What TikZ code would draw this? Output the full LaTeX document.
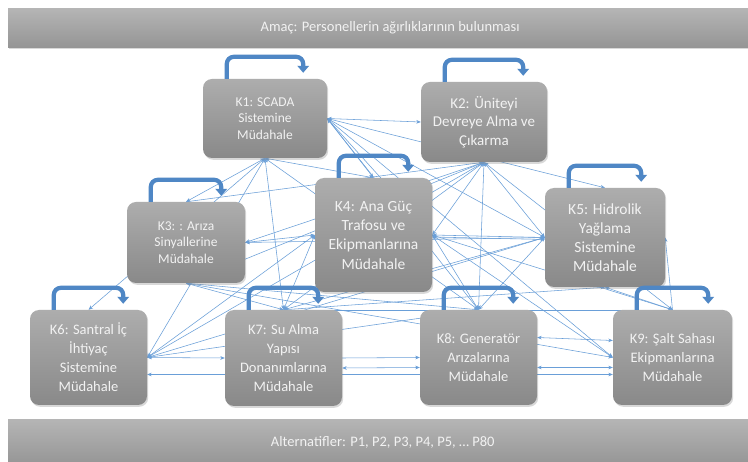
\documentclass[tikz,border=0pt]{standalone}
\usepackage{fontspec}
\setmainfont{Carlito}
\usetikzlibrary{arrows.meta,shadows,calc}
\pgfdeclarelayer{bg}
\pgfsetlayers{bg,main}

\definecolor{boxtop}{HTML}{ADADAD}
\definecolor{boxbot}{HTML}{898989}
\definecolor{bartop}{HTML}{B5B5B5}
\definecolor{barbot}{HTML}{959595}
\definecolor{txt}{HTML}{F2F2F2}
\definecolor{linkc}{HTML}{6A9FD8}
\definecolor{loopc}{HTML}{4F87C5}

\tikzset{
  kbox/.style={rounded corners=9pt, top color=boxtop, bottom color=boxbot,
    draw=none, text=txt, align=center, inner sep=0pt,
    drop shadow={shadow xshift=1.2pt, shadow yshift=-1.8pt, opacity=0.3}},
  bar/.style={top color=bartop, bottom color=barbot, draw=none, text=txt,
    inner sep=0pt, anchor=north west,
    font=\fontsize{14.5}{17}\selectfont,
    drop shadow={shadow xshift=1pt, shadow yshift=-1.5pt, opacity=0.3}},
  link/.style={draw=linkc, line width=0.55pt,
    {Stealth[length=4.5pt,width=3.6pt]}-{Stealth[length=4.5pt,width=3.6pt]}},
  linkto/.style={draw=linkc, line width=0.55pt, -{Stealth[length=4.5pt,width=3.6pt]}},
  kloopline/.style={draw=loopc, line width=4.2pt, rounded corners=7pt,
    -{Triangle[width=11.5pt,length=7pt]}},
}

% self-referencing arrow drawn over the top edge of a criterion box
\newcommand\kloop[1]{%
  \draw[kloopline] ($(#1.north west)+(24,0)$) -- ++(0,-22)
    -| ($(#1.north east)+(-24,-6)$);}

\begin{document}
\begin{tikzpicture}[x=1pt,y=-1pt]
\useasboundingbox (0,0) rectangle (748,462);
\begin{pgfonlayer}{bg}
  \fill[white] (0,0) rectangle (748,462);
\end{pgfonlayer}

% goal and alternatives bars
\node[bar, minimum width=764pt, minimum height=39pt] (goal) at (8,8)
  {Amaç: Personellerin ağırlıklarının bulunması};
\node[bar, minimum width=749pt, minimum height=46pt] (alts) at (8,419)
  {Alternatifler: P1, P2, P3, P4, P5, … P80};

% criteria
\node[kbox, minimum width=124pt, minimum height=79pt,
  font=\fontsize{13.5}{16.5}\selectfont] (k1) at (265,118.5)
  {K1: SCADA\\Sistemine\\Müdahale};
\node[kbox, minimum width=126pt, minimum height=80pt,
  font=\fontsize{15}{18.3}\selectfont] (k2) at (484,122)
  {K2: Üniteyi\\Devreye Alma ve\\Çıkarma};
\node[kbox, minimum width=118pt, minimum height=81pt,
  font=\fontsize{13.5}{16.5}\selectfont] (k3) at (186,242.5)
  {K3: : Arıza\\Sinyallerine\\Müdahale};
\node[kbox, minimum width=117pt, minimum height=114pt,
  font=\fontsize{15.5}{19.3}\selectfont] (k4) at (373.5,235)
  {K4: Ana Güç\\Trafosu ve\\Ekipmanlarına\\Müdahale};
\node[kbox, minimum width=120pt, minimum height=99pt,
  font=\fontsize{15.5}{19}\selectfont] (k5) at (605,237.5)
  {K5: Hidrolik\\Yağlama\\Sistemine\\Müdahale};
\node[kbox, minimum width=117pt, minimum height=95pt,
  font=\fontsize{14.5}{19}\selectfont] (k6) at (88.5,357.5)
  {K6: Santral İç\\İhtiyaç\\Sistemine\\Müdahale};
\node[kbox, minimum width=117pt, minimum height=96pt,
  font=\fontsize{14.5}{19}\selectfont] (k7) at (283.5,358)
  {K7: Su Alma\\Yapısı\\Donanımlarına\\Müdahale};
\node[kbox, minimum width=117pt, minimum height=95pt,
  font=\fontsize{14.5}{19}\selectfont] (k8) at (478.5,357.5)
  {K8: Generatör\\Arızalarına\\Müdahale};
\node[kbox, minimum width=119pt, minimum height=95pt,
  font=\fontsize{14.5}{19}\selectfont] (k9) at (672.5,357.5)
  {K9: Şalt Sahası\\Ekipmanlarına\\Müdahale};

% influence links between criteria, kept behind the boxes
\begin{pgfonlayer}{bg}
  \foreach \a/\b in {
    k1.east/k2.west, k3.east/k4.west, k4.east/k5.west,
    k6.east/k7.west,
    k1.south/k3.north, k1.south/k6.north, k1.south/k7.north,
    k1.south/k4.north, k1.south/k8.north, k1.south/k6.east,
    k1.east/k4.north, k1.east/k4.east, k1.east/k5.west,
    k1.east/k8.north, k1.east/k9.west, k1.east/k5.north,
    k2.south/k3.east, k2.south/k3.north, k2.south/k6.east,
    k2.south/k7.north, k2.south/k8.north, k2.south/k9.north,
    k2.south/k4.east, k2.south/k5.west, k2.south/k3.south,
    k3.south/k7.north, k3.south/k8.north,
    k4.west/k6.east, k4.west/k7.north,
    k4.east/k8.north, k4.east/k9.north, k4.east/k9.west,
    k5.west/k6.east, k5.west/k7.north, k5.west/k8.north,
    k5.west/k3.east, k5.south/k9.north, k5.south/k7.north,
    k6.east/k8.north, k7.north/k9.north, k3.south/k9.west}
    \draw[link] (\a) -- (\b);
  \draw[link] ([yshift=-2pt]k4.east) -- ([yshift=-2pt]k5.west);
  \draw[linkto] (k7.east) -- (k8.west);
  \draw[link] ([yshift=-10pt]k7.east) -- ([yshift=-10pt]k8.west);
  \draw[link] ([yshift=-10pt]k8.east) -- ([yshift=-10pt]k9.west);
  \draw[link] ([yshift=20pt]k8.east) -- ([yshift=17pt]k9.west);
  \draw[link] ([yshift=-17pt]k6.east) -- ([yshift=-17pt]k9.west);
  \draw[linkto] (k9.north) -- (k5.east);
\end{pgfonlayer}

% self-loops
\kloop{k1}
\kloop{k2}
\kloop{k3}
\kloop{k4}
\kloop{k5}
\kloop{k6}
\kloop{k7}
\kloop{k8}
\kloop{k9}
\end{tikzpicture}
\end{document}
